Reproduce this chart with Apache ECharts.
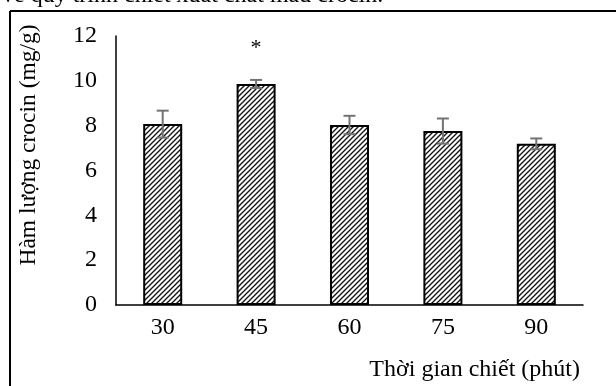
<!DOCTYPE html>
<html><head><meta charset="utf-8">
<script src="https://cdn.jsdelivr.net/npm/echarts@6/dist/echarts.min.js"></script>
<style>html,body{margin:0;padding:0;background:#fff}#c{width:616px;height:386px}</style>
</head><body><div id="c"></div>
<script>
const categories = ['30', '45', '60', '75', '90'];
const values = [8.07, 9.86, 8.03, 7.76, 7.19];
const errors = [0.6, 0.18, 0.41, 0.56, 0.24];
const yTicks = [0, 2, 4, 6, 8, 10, 12];
const starIndex = 1;
const starValue = 11.45;
const xTitle = 'Thời gian chiết (phút)';
const yTitle = 'Hàm lượng crocin (mg/g)';

const pc = document.createElement('canvas');
pc.width = 5; pc.height = 5;
const g = pc.getContext('2d');
g.fillStyle = '#fff'; g.fillRect(0,0,5,5);
g.strokeStyle = '#141414'; g.lineWidth = 1.4;
g.beginPath();
g.moveTo(-1,6); g.lineTo(6,-1);
g.moveTo(-6,6); g.lineTo(1,-1);
g.moveTo(4,6); g.lineTo(11,-1);
g.stroke();

const font = 'Liberation Serif';
const chart = echarts.init(document.getElementById('c'));
chart.setOption({
  animation: false,
  grid: {left: 116, top: 36, right: 33, bottom: 81, containLabel: false},
  xAxis: {
    type: 'category', data: categories,
    axisLine: {lineStyle: {color: '#000', width: 1.5}},
    axisTick: {show: false},
    axisLabel: {color: '#000', fontFamily: font, fontSize: 24, margin: 11}
  },
  yAxis: {
    type: 'value', min: 0, max: 12, interval: 2,
    axisLine: {show: true, lineStyle: {color: '#000', width: 1.5}},
    axisTick: {show: false},
    splitLine: {show: false},
    axisLabel: {color: '#000', fontFamily: font, fontSize: 24, margin: 19,
      formatter: v => yTicks.includes(v) ? String(v) : ''}
  },
  graphic: [
    {type: 'line', shape: {x1: 10, y1: 11, x2: 616, y2: 11}, style: {stroke: '#000', lineWidth: 2}},
    {type: 'line', shape: {x1: 10, y1: 11, x2: 10, y2: 386}, style: {stroke: '#000', lineWidth: 2}},
    {type: 'text', left: 2, top: -16, style: {text: 'về quy trình chiết xuất chất màu crocin.', font: '24px "Liberation Serif"', fill: '#000'}},
    {type: 'text', x: 580, y: 370, style: {text: xTitle, font: '24px "Liberation Serif"', fill: '#000', align: 'right', verticalAlign: 'middle'}},
    {type: 'text', x: 29, y: 145, rotation: Math.PI / 2, style: {text: yTitle, font: '23.5px "Liberation Serif"', fill: '#000', align: 'center', verticalAlign: 'middle'}}
  ],
  series: [
    {
      type: 'bar', data: values, barWidth: 39,
      itemStyle: {color: {image: pc, repeat: 'repeat'}, borderColor: '#000', borderWidth: 2}
    },
    {
      type: 'custom',
      data: values.map((v, i) => [i, v - errors[i], v + errors[i]]),
      renderItem: (params, api) => {
        const lo = api.coord([api.value(0), api.value(1)]);
        const hi = api.coord([api.value(0), api.value(2)]);
        const w = 6;
        const st = {stroke: '#737373', lineWidth: 2};
        return {type: 'group', children: [
          {type: 'line', shape: {x1: lo[0], y1: lo[1], x2: hi[0], y2: hi[1]}, style: st},
          {type: 'line', shape: {x1: hi[0]-w, y1: hi[1], x2: hi[0]+w, y2: hi[1]}, style: st},
          {type: 'line', shape: {x1: lo[0]-w, y1: lo[1], x2: lo[0]+w, y2: lo[1]}, style: st}
        ]};
      },
      z: 5
    },
    {
      type: 'scatter', symbolSize: 1, itemStyle: {opacity: 0},
      data: [[starIndex, starValue]],
      label: {show: true, position: 'inside', formatter: '*', color: '#000', fontFamily: font, fontSize: 22, opacity: 1}
    }
  ]
});
</script></body></html>
